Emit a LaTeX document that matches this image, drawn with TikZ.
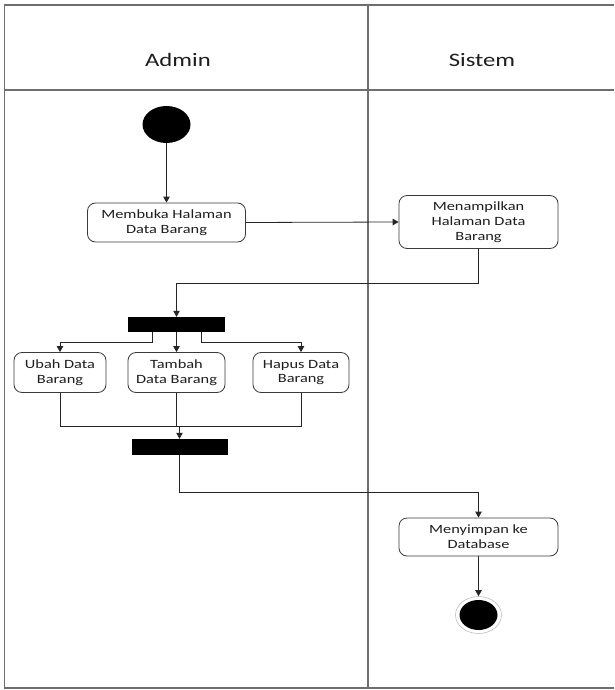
\documentclass[tikz,border=0pt]{standalone}
\usepackage{fontspec}
\setmainfont{Carlito}[FakeStretch=1.3]
\usetikzlibrary{arrows.meta,shapes.geometric,calc}
\definecolor{txt}{HTML}{1E1E1E}
\definecolor{lanecol}{HTML}{6E6E6E}
\definecolor{boxcol}{HTML}{3A3A3A}
\tikzset{
  lane/.style={draw=lanecol,line width=1.3pt},
  actbox/.style={draw=boxcol,line width=0.8pt,rounded corners=8pt,fill=white,
    align=center,text=txt,inner sep=2pt,
    font=\fontsize{12.6}{14.8}\selectfont},
  syncbar/.style={fill=black,draw=none,inner sep=0pt},
  flow/.style={draw=black!85,line width=0.8pt},
  arr/.style={flow,-{Triangle[length=6pt,width=6.5pt]}},
  hdr/.style={text=txt,font=\fontsize{19}{22}\selectfont,anchor=base,inner sep=0pt}
}
\begin{document}
\begin{tikzpicture}[x=1pt,y=-1pt]
\useasboundingbox (0,0) rectangle (614,690);
% swimlanes
\draw[lane] (614,5) -- (4.5,5) -- (4.5,688) -- (614,688);
\draw[lane] (4.5,90) -- (614,90);
\draw[lane] (368,5) -- (368,688);
\node[hdr] (hadmin) at (178,67) {Admin};
\node[hdr] (hsistem) at (482,67) {Sistem};
% start
\node[ellipse,fill=black,minimum width=48pt,minimum height=37pt,inner sep=0pt] (start) at (166.5,124.5) {};
% activities
\node[actbox,minimum width=158pt,minimum height=39pt] (mem) at (166.5,222.5) {Membuka Halaman\\Data Barang};
\node[actbox,minimum width=159pt,minimum height=53pt] (men) at (478.5,222) {Menampilkan\\Halaman Data\\Barang};
\node[syncbar,minimum width=97pt,minimum height=15pt] (fork) at (176.5,324.5) {};
\node[actbox,minimum width=92pt,minimum height=40pt] (ubah) at (60,372.5) {Ubah Data\\Barang};
\node[actbox,minimum width=97pt,minimum height=40pt] (tambah) at (176.5,372.5) {Tambah\\Data Barang};
\node[actbox,minimum width=96pt,minimum height=40pt] (hapus) at (301,372.5) {Hapus Data\\Barang};
\node[syncbar,minimum width=96pt,minimum height=16pt] (join) at (179.5,447) {};
\node[actbox,minimum width=159pt,minimum height=38pt] (save) at (478.5,537) {Menyimpan ke\\Database};
% end
\node[ellipse,draw=black!25,line width=0.6pt,fill=white,minimum width=46pt,minimum height=37pt,inner sep=0pt] (endc) at (478.5,615) {};
\node[ellipse,fill=black,minimum width=38pt,minimum height=30pt,inner sep=0pt] (endi) at (endc.center) {};
% helper coordinates
\coordinate (c1) at (478.5,283.5);
\coordinate (m) at (176.5,426);
\coordinate (c2) at (478.5,492);
% flows
\draw[arr] (start.south) -- (mem.north);
\draw[arr] (mem.east) -- (men.west);
\draw[arr] (men.south) -- (c1) -| (fork.north);
\draw[arr] ([xshift=-24.5pt]fork.south) -- ++(0,10) -| (ubah.north);
\draw[arr] (fork.south) -- (tambah.north);
\draw[arr] ([xshift=24.5pt]fork.south) -- ++(0,10) -| (hapus.north);
\draw[flow] (ubah.south) |- (m);
\draw[flow] (hapus.south) |- (m);
\draw[flow] (tambah.south) -- (m);
\draw[arr] (join.north |- m) -- (join.north);
\draw[arr] (join.south) |- (c2) -- (save.north);
\draw[arr] (save.south) -- (endc.north);
\end{tikzpicture}
\end{document}
